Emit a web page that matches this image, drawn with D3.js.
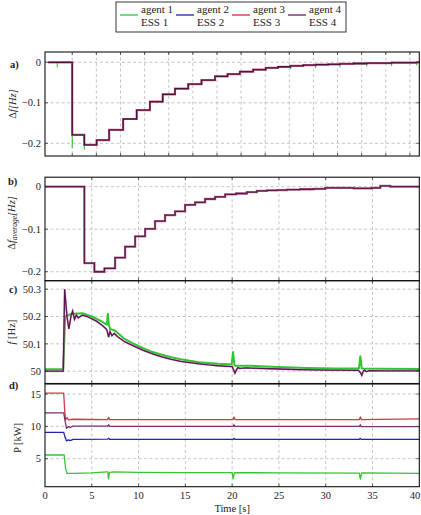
<!DOCTYPE html>
<html><head><meta charset="utf-8">
<script src="https://cdn.jsdelivr.net/npm/d3@7"></script>
<style>body{margin:0;background:#fff}text{font-family:'Liberation Serif','DejaVu Serif',serif}</style>
</head><body><svg id="c" width="421" height="515" font-family="Liberation Serif, DejaVu Serif, serif"></svg>
<script>
// ---------- DATA ----------
const seriesNames = ["agent 1","agent 2","agent 3","agent 4"];
const essNames = ["ESS 1","ESS 2","ESS 3","ESS 4"];
const colors = ["#33c433","#2323a8","#cc2a3a","#6a1c5c"];
const timeTicks = [0,5,10,15,20,25,30,35,40];
const gridA = [1,2,3,4,5,6,7,8,9,10,11,12,13,14,15];
const ticksA = [0,-0.1,-0.2];
const ticksB = [0,-0.1,-0.2];
const ticksC = [50,50.1,50.2,50.3];
const ticksD = [5,10,15];

// panel a: consensus steps (iteration axis), values Δf
const stepU = [0,1.00,1.50,2.01,2.53,3.11,3.67,4.22,4.75,5.26,5.81,6.36,6.92,7.44,7.95,8.50,9.02,9.53,10.05,10.58,11.09,11.61,12.10,12.65,13.21,13.72,14.24,14.75,15.28,15.39];
const stepA = [0,-0.179,-0.204,-0.192,-0.167,-0.140,-0.118,-0.097,-0.079,-0.065,-0.054,-0.044,-0.035,-0.029,-0.023,-0.018,-0.014,-0.011,-0.009,-0.007,-0.006,-0.005,-0.004,-0.003,-0.002,-0.002,-0.001,-0.001,0,0];
// agent 1 short transients [u, from, to]
const spikeA1 = [[0.38,0,-0.012],[1.0,-0.179,-0.212],[1.5,-0.204,-0.216],[7.95,-0.023,-0.031],[9.02,-0.014,-0.022],[10.05,-0.009,-0.017],[11.09,-0.006,-0.014],[12.10,-0.004,-0.012],[13.21,-0.002,-0.010],[14.24,-0.001,-0.009],[15.28,0,-0.007]];

// panel b: average Δf steps (time s)
const stepTB = [0,4.21,5.28,6.35,7.49,8.56,9.63,10.70,11.76,12.83,13.90,14.97,16.04,17.11,18.18,19.25,20.43,21.57,22.64,23.71,24.78,25.85,27.27,28.70,29.95,32.97,34.94,35.83,36.90,40];
const stepB = [0,-0.180,-0.200,-0.192,-0.167,-0.141,-0.117,-0.099,-0.081,-0.067,-0.058,-0.043,-0.037,-0.029,-0.024,-0.018,-0.016,-0.013,-0.010,-0.0087,-0.008,-0.007,-0.006,-0.005,-0.003,-0.004,-0.003,0.002,0,0];

// panel c: frequency [t, f]
const freqESS4 = [[0,50],[1.95,50],[2.1,50.3],[2.35,50.2],[2.55,50.155],[2.8,50.205],[2.95,50.22],[3.15,50.19],[3.35,50.205],[3.55,50.195],[4.0,50.205],[4.5,50.2],[5.5,50.183],[6.2,50.165],[6.6,50.152],[6.8,50.125],[6.95,50.145],[7.15,50.13],[7.4,50.138],[7.8,50.125],[8.5,50.108],[9.5,50.092],[10.5,50.076],[11.5,50.063],[12.5,50.052],[13.5,50.043],[14.5,50.036],[15.5,50.031],[16.5,50.027],[17.5,50.023],[18.5,50.02],[19.5,50.018],[20.0,50.017],[20.15,50.005],[20.3,49.993],[20.45,50.004],[20.6,50.013],[20.8,50.01],[21.5,50.012],[23,50.01],[25,50.008],[27,50.006],[30,50.004],[33.5,50.003],[33.7,49.995],[33.85,49.985],[34.0,49.999],[34.15,50.004],[34.35,49.998],[34.6,50.002],[36,50.001],[40,50.001]];
const freqESS1 = [[0,50.007],[1.95,50.007],[2.15,50.2],[2.4,50.205],[3,50.21],[4,50.212],[5,50.2],[6,50.183],[6.6,50.17],[6.72,50.21],[6.82,50.17],[6.95,50.155],[7.5,50.148],[8.5,50.118],[9.5,50.1],[10.5,50.084],[11.5,50.07],[12.5,50.06],[13.5,50.051],[14.5,50.044],[15.5,50.038],[16.5,50.033],[17.5,50.03],[18.5,50.027],[19.5,50.025],[19.95,50.025],[20.1,50.07],[20.25,50.02],[20.5,50.02],[22,50.02],[25,50.015],[28,50.012],[31,50.01],[33.55,50.01],[33.7,50.055],[33.85,50.01],[36,50.009],[40,50.008]];

// panel d: power [t, kW]
const powESS1 = [[0,5.57],[2.05,5.57],[2.2,3.5],[2.35,2.75],[3,2.72],[5,2.8],[6.6,2.95],[6.72,2.95],[6.78,1.9],[6.9,2.9],[7.3,2.95],[10,2.9],[15,2.85],[20.0,2.84],[20.1,1.9],[20.25,2.85],[25,2.8],[33.6,2.78],[33.7,1.85],[33.85,2.8],[40,2.74]];
const powESS2 = [[0,9.08],[2.0,9.08],[2.15,8.3],[2.3,7.75],[2.5,7.9],[2.7,7.8],[3,8.0],[6.7,8.03],[6.8,8.15],[6.9,8.0],[20.1,8.0],[20.2,8.15],[20.3,8.0],[33.6,8.0],[33.7,8.15],[33.8,7.98],[40,7.98]];
const powESS3 = [[0,15.15],[2.0,15.15],[2.1,12.5],[2.2,11.0],[2.35,11.35],[2.5,11.0],[3,11.1],[6.7,11.05],[6.8,11.4],[6.9,11.05],[20.1,11.05],[20.2,11.45],[20.3,11.05],[33.6,11.05],[33.7,11.45],[33.8,11.05],[40,11.15]];
const powESS4 = [[0,12.1],[2.0,12.1],[2.15,10.8],[2.3,9.7],[2.5,9.95],[2.7,9.85],[3,10.05],[6.7,10.05],[6.8,10.25],[6.9,10.0],[20.1,10.0],[20.2,10.25],[20.3,10.0],[33.6,10.0],[33.7,10.25],[33.8,9.95],[40,9.95]];

// ---------- DRAW ----------
const FONT = "Liberation Serif, DejaVu Serif, serif";
const svg = d3.select("#c");
const L = 45, R = 419.3;
const x = d3.scaleLinear().domain([0,40]).range([L,R]);
const xA = d3.scaleLinear().domain([-0.13,15.39]).range([L,R]);
const fmt = v => (v<0?"\u2212":"") + d3.format("")(Math.abs(v));

const panels = [
  {id:"a", xs:xA, grid:gridA, y:d3.scaleLinear().domain([-0.2313,0.0254]).range([156,52]), ticks:ticksA},
  {id:"b", xs:x, grid:timeTicks.slice(1,-1), y:d3.scaleLinear().domain([-0.2211,0.0223]).range([280.7,177.2]), ticks:ticksB},
  {id:"c", xs:x, grid:timeTicks.slice(1,-1), y:d3.scaleLinear().domain([49.955,50.331]).range([383.5,280.7]), ticks:ticksC},
  {id:"d", xs:x, grid:timeTicks.slice(1,-1), y:d3.scaleLinear().domain([0.67,16.55]).range([486.7,384]), ticks:ticksD}
];

panels.forEach(p=>{
  const g = svg.append("g");
  const [y0,y1] = p.y.range();
  const top = Math.min(y0,y1), bot = Math.max(y0,y1);
  p.top = top; p.bot = bot;
  g.selectAll(".vg").data(p.grid).join("line")
    .attr("x1",d=>p.xs(d)).attr("x2",d=>p.xs(d)).attr("y1",top).attr("y2",bot)
    .attr("stroke","#b8b8b8").attr("stroke-width",0.8).attr("stroke-dasharray","3,2.5");
  g.selectAll(".hg").data(p.ticks).join("line")
    .attr("x1",L).attr("x2",R).attr("y1",d=>p.y(d)).attr("y2",d=>p.y(d))
    .attr("stroke","#b8b8b8").attr("stroke-width",0.8).attr("stroke-dasharray","3,2.5");
  p.ticks.forEach(t=>{
    g.append("line").attr("x1",L).attr("x2",L+3).attr("y1",p.y(t)).attr("y2",p.y(t)).attr("stroke","#222").attr("stroke-width",0.7);
    g.append("line").attr("x1",R).attr("x2",R-3).attr("y1",p.y(t)).attr("y2",p.y(t)).attr("stroke","#222").attr("stroke-width",0.7);
  });
  p.grid.forEach(t=>{
    g.append("line").attr("x1",p.xs(t)).attr("x2",p.xs(t)).attr("y1",bot).attr("y2",bot-3).attr("stroke","#222").attr("stroke-width",0.7);
    g.append("line").attr("x1",p.xs(t)).attr("x2",p.xs(t)).attr("y1",top).attr("y2",top+3).attr("stroke","#222").attr("stroke-width",0.7);
  });
  g.selectAll(".yl").data(p.ticks).join("text")
    .attr("x",L-4).attr("y",d=>p.y(d)).attr("dy","0.35em").attr("text-anchor","end")
    .attr("font-family",FONT).attr("font-size",10.5).attr("fill","#222").text(fmt);
  p.g = g;
});

// ---- panel a lines
const pa = panels[0];
const stepDataA = stepU.map((u,i)=>[u,stepA[i]]);
const lineA = d3.line().x(d=>xA(d[0])).y(d=>pa.y(d[1])).curve(d3.curveStepAfter);
const la = pa.g.append("g");
la.append("path").datum(stepDataA).attr("d",lineA).attr("fill","none").attr("stroke",colors[0]).attr("stroke-width",1.3);
la.selectAll(".sp").data(spikeA1).join("line")
  .attr("x1",d=>xA(d[0])).attr("x2",d=>xA(d[0])).attr("y1",d=>pa.y(d[1])).attr("y2",d=>pa.y(d[2]))
  .attr("stroke",colors[0]).attr("stroke-width",1.1);
la.append("path").datum(stepDataA).attr("d",lineA).attr("fill","none").attr("stroke",colors[1]).attr("stroke-width",1.3);
la.append("path").datum(stepDataA).attr("d",lineA).attr("fill","none").attr("stroke","#d0607e").attr("stroke-width",2.2);
la.append("path").datum(stepDataA).attr("d",lineA).attr("fill","none").attr("stroke","#4a1442").attr("stroke-width",1.3);

// ---- panel b
const pb = panels[1];
const stepDataB = stepTB.map((t,i)=>[t,stepB[i]]);
const lineB = d3.line().x(d=>x(d[0])).y(d=>pb.y(d[1])).curve(d3.curveStepAfter);
pb.g.append("path").datum(stepDataB).attr("d",lineB).attr("fill","none").attr("stroke","#c4708e").attr("stroke-width",2.3);
pb.g.append("path").datum(stepDataB).attr("d",lineB).attr("fill","none").attr("stroke","#561a4c").attr("stroke-width",1.3);

// ---- panel c
const pc = panels[2];
const lineC = d3.line().x(d=>x(d[0])).y(d=>pc.y(d[1]));
pc.g.append("path").datum(freqESS1).attr("d",lineC).attr("fill","none").attr("stroke",colors[0]).attr("stroke-width",2).attr("stroke-linejoin","round");
pc.g.append("path").datum(freqESS4).attr("d",lineC).attr("fill","none").attr("stroke","#c04a9a").attr("stroke-width",1.9).attr("stroke-opacity",0.5);
pc.g.append("path").datum(freqESS4).attr("d",lineC).attr("fill","none").attr("stroke","#5a1650").attr("stroke-width",1.3);

// ---- panel d
const pd = panels[3];
const lineD = d3.line().x(d=>x(d[0])).y(d=>pd.y(d[1]));
[[powESS1,colors[0]],[powESS2,colors[1]],[powESS3,"#cf3a45"],[powESS4,"#7a2f73"]].forEach(([dat,c])=>{
  pd.g.append("path").datum(dat).attr("d",lineD).attr("fill","none").attr("stroke",c).attr("stroke-width",1.3).attr("stroke-linejoin","round");
});

// frames
panels.forEach(p=>{
  svg.append("rect").attr("x",L).attr("y",p.top).attr("width",R-L).attr("height",p.bot-p.top)
    .attr("fill","none").attr("stroke","#111").attr("stroke-width",1.1);
});

// x tick labels on bottom panel (last one kept inside the page)
svg.selectAll(".xl").data(timeTicks).join("text")
  .attr("x",d=>Math.min(x(d), 421-6)).attr("y",499).attr("text-anchor","middle").attr("font-family",FONT).attr("font-size",10.5).attr("fill","#222").text(d=>d);
svg.append("text").attr("x",(L+R)/2).attr("y",512).attr("text-anchor","middle").attr("font-family",FONT).attr("font-size",10.5).attr("fill","#222").text("Time [s]");

// panel letters
[["a)",10,68],["b)",8,185],["c)",9,293],["d)",9,389]].forEach(([t,px,py])=>{
  svg.append("text").attr("x",px).attr("y",py).attr("font-family",FONT).attr("font-size",10.5).attr("font-weight","bold").attr("fill","#222").text(t);
});

// y axis titles
function ylab(cx, cy, build){
  const t = svg.append("text").attr("transform",`translate(${cx},${cy}) rotate(-90)`)
    .attr("text-anchor","middle").attr("font-family",FONT).attr("font-size",10.5).attr("fill","#222");
  build(t);
}
ylab(16, (pa.top+pa.bot)/2, t=>{ t.append("tspan").text("\u0394"); t.append("tspan").attr("font-style","italic").text("f[Hz]"); });
ylab(15, 223, t=>{ t.append("tspan").text("\u0394"); t.append("tspan").attr("font-style","italic").text("f");
  t.append("tspan").attr("font-style","italic").attr("font-size",7.5).attr("dy",2).text("average");
  t.append("tspan").attr("font-style","italic").attr("dy",-2).text("[Hz]"); });
ylab(15, (pc.top+pc.bot)/2, t=>{ t.append("tspan").attr("font-style","italic").text("f"); t.append("tspan").text(" [Hz]"); });
ylab(20.5, 438, t=>{ t.text("P [kW]"); });

// legend
const lg = svg.append("g");
lg.append("rect").attr("x",116).attr("y",2).attr("width",230).attr("height",30).attr("fill","#fff").attr("stroke","#222").attr("stroke-width",0.9);
const colX = [0,1,2,3].map(i=>120+56*i);
seriesNames.forEach((n,i)=>{
  lg.append("line").attr("x1",colX[i]).attr("x2",colX[i]+18).attr("y1",15).attr("y2",15).attr("stroke",colors[i]).attr("stroke-width",1.3);
  lg.append("text").attr("x",colX[i]+21).attr("y",12.5).attr("font-family",FONT).attr("font-size",11).attr("fill","#222").text(n);
  lg.append("text").attr("x",colX[i]+21).attr("y",26).attr("font-family",FONT).attr("font-size",11).attr("fill","#222").text(essNames[i]);
});
</script></body></html>
